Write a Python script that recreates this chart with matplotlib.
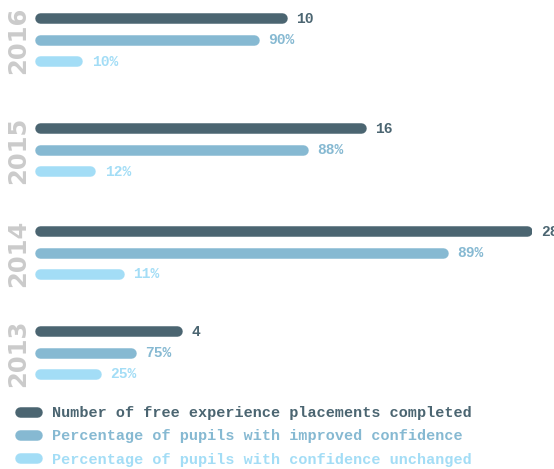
import matplotlib.pyplot as plt
from matplotlib.lines import Line2D

# Data (top group first, as in the reference)
years = ["2016", "2015", "2014", "2013"]
placements = [10, 16, 28, 4]
improved = [90, 88, 89, 75]
unchanged = [10, 12, 11, 25]

# bar lengths as drawn in the infographic (relative scale, longest bar = 100)
placements_bar = [50.7, 66.6, 100.0, 29.6]
improved_bar = [45.1, 54.9, 83.1, 20.3]
unchanged_bar = [9.5, 12.1, 17.9, 13.3]

series_labels = [
    "Number of free experience placements completed",
    "Percentage of pupils with improved confidence",
    "Percentage of pupils with confidence unchanged",
]
colors = ["#4B6571", "#86B9D2", "#A3DDF6"]
year_color = "#CBCBCB"
mono = "Liberation Mono"

W, H, DPI = 554, 469, 100
fig = plt.figure(figsize=(W / DPI, H / DPI), dpi=DPI)

# axes for bars: x from 35px to 532px, y from 0 to 392px
ax = fig.add_axes([35 / W, 1 - 392 / H, 497 / W, 392 / H])
ax.set_xlim(0, 100)
ax.set_ylim(392, 0)
ax.axis("off")

lw_px = 10.5
cap = (lw_px / 2) * 100 / 497  # cap radius in x data units

group_centers = [40, 150, 253, 353]  # layout: middle bar of each group
row_gap = 21.5
bar_sets = [
    (placements_bar, [str(v) for v in placements]),
    (improved_bar, [f"{v}%" for v in improved]),
    (unchanged_bar, [f"{v}%" for v in unchanged]),
]

for g, year in enumerate(years):
    center = group_centers[g]
    for s, (lengths, labels) in enumerate(bar_sets):
        y = center + (s - 1) * row_gap
        length = lengths[g]
        ax.plot([cap, length - cap], [y, y], color=colors[s],
                lw=lw_px * 72 / DPI, solid_capstyle="round")
        ax.text(length + 1.9, y, labels[g], color=colors[s], fontsize=10.5,
                family=mono, fontweight="bold", va="center", ha="left")
    ax.text(-3.3, center, year, rotation=90, color=year_color, fontsize=17.5,
            fontweight="bold", ha="center", va="center", clip_on=False)

# legend
handles = [Line2D([0], [0], color=c, lw=lw_px * 72 / DPI, solid_capstyle="round")
           for c in colors]
leg = fig.legend(handles, series_labels, loc="upper left",
                 bbox_to_anchor=(20 / W, 1 - 406 / H), frameon=False,
                 prop={"family": mono, "weight": "bold", "size": 10.9},
                 handlelength=1.1, handletextpad=1.0, labelspacing=0.62,
                 borderpad=0, borderaxespad=0, labelcolor=colors)

fig.savefig("out.png", dpi=DPI)
